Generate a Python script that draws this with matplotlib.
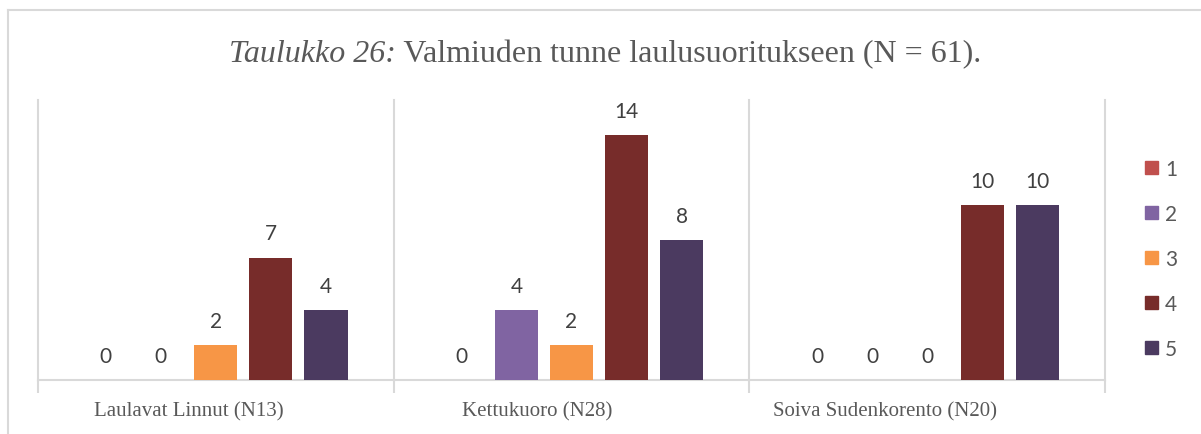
import matplotlib
matplotlib.use("Agg")
import matplotlib.pyplot as plt
from matplotlib.lines import Line2D
from matplotlib.transforms import ScaledTranslation
import numpy as np

categories = ["Laulavat Linnut (N13)", "Kettukuoro (N28)", "Soiva Sudenkorento (N20)"]
series_names = ["1", "2", "3", "4", "5"]
values = {
    "1": [0, 0, 0],
    "2": [0, 4, 0],
    "3": [2, 2, 0],
    "4": [7, 14, 10],
    "5": [4, 8, 10],
}
colors = ["#C0504D", "#8064A2", "#F79646", "#772C2A", "#4B3A60"]
title_italic = "Taulukko 26:"
title_rest = " Valmiuden tunne laulusuoritukseen (N = 61)."

W, H = 1201, 435
fig = plt.figure(figsize=(W / 100, H / 100), dpi=100)
ax = fig.add_axes([38 / W, 1 - 381 / H, (1105 - 38) / W, (381 - 101) / H])

grid_c = "#D9D9D9"
x = np.arange(len(categories))
width = 43 / 355
step = 55 / 355
for i, name in enumerate(series_names):
    pos = x + (i - 2) * step
    vals = values[name]
    ax.bar(pos, vals, width=width, color=colors[i], label=name, zorder=3)
    for px, v in zip(pos, vals):
        ax.annotate(str(v), (px, v), xytext=(0, 17.6), textcoords="offset points",
                    ha="center", va="center", fontsize=15, color="#404040",
                    family=["Lato", "DejaVu Sans"])

ax.set_xlim(-0.5, 2.5)
ax.set_ylim(0, 16)
ax.set_yticks([])
for s in ["top", "right", "left"]:
    ax.spines[s].set_visible(False)
ax.spines["bottom"].set_color(grid_c)
ax.spines["bottom"].set_linewidth(1.5)
for xv in [-0.5, 0.5, 1.5, 2.5]:
    ax.axvline(xv, color=grid_c, lw=1.5, zorder=1, clip_on=False)

ax.set_xticks([-0.5, 0.5, 1.5, 2.5])
ax.set_xticklabels([])
ax.tick_params(axis="x", which="major", length=9, width=1.5, color=grid_c, direction="out")
ax.set_xticks(x, minor=True)
ax.set_xticklabels(categories, minor=True, fontsize=15, color="#595959",
                   family=["Liberation Serif", "DejaVu Serif"])
ax.tick_params(axis="x", which="minor", length=0, pad=15)
# the reference renders its category labels slightly left of the group centres
label_shift_px = [-27, -34, -42]
for lab, dx in zip(ax.get_xticklabels(minor=True), label_shift_px):
    lab.set_transform(lab.get_transform() + ScaledTranslation(dx / 100, 0, fig.dpi_scale_trans))

# legend
handles = [plt.Rectangle((0, 0), 1, 1, color=c) for c in colors]
leg = fig.legend(handles, series_names, loc="upper left",
                 bbox_to_anchor=(1145 / W, 1 - 160 / H), frameon=False,
                 prop={"family": ["Lato", "DejaVu Sans"], "size": 15},
                 handlelength=0.62, handleheight=0.62, labelspacing=1.2,
                 handletextpad=0.35, borderpad=0, borderaxespad=0)
for t in leg.get_texts():
    t.set_color("#595959")

# title
t1 = fig.text(0, 0, title_italic, fontsize=23, color="#595959", style="italic",
              family=["Liberation Serif", "DejaVu Serif"])
t2 = fig.text(0, 0, title_rest, fontsize=23, color="#595959",
              family=["Liberation Serif", "DejaVu Serif"])
fig.canvas.draw()
r = fig.canvas.get_renderer()
w1 = t1.get_window_extent(r).width
w2 = t2.get_window_extent(r).width
x0 = 605 - (w1 + w2) / 2
ybase = H - 62
t1.set_position((x0 / W, ybase / H))
t2.set_position(((x0 + w1) / W, ybase / H))

# outer border
fig.add_artist(Line2D([8 / W, 1], [1 - 11 / H, 1 - 11 / H], color=grid_c, lw=1.5,
                      transform=fig.transFigure))
fig.add_artist(Line2D([8 / W, 8 / W], [0, 1 - 11 / H], color=grid_c, lw=1.5,
                      transform=fig.transFigure))

fig.savefig("out.png", dpi=100)
